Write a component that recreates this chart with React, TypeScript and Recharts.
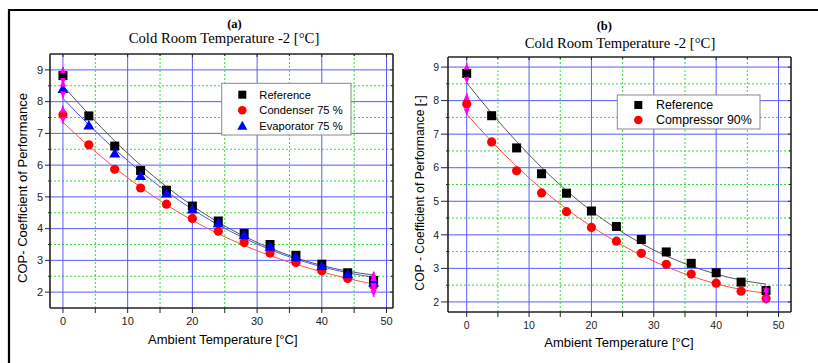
import React from "react";
import { ComposedChart, XAxis, YAxis, Line, Scatter, ReferenceLine } from "recharts";

const SANS = "'Liberation Sans', Arial, sans-serif";
const SERIF = "'Liberation Serif', 'Times New Roman', serif";

// ambient temperature, °C
const temps = [0, 4, 8, 12, 16, 20, 24, 28, 32, 36, 40, 44, 48];

// panel (a): measured COP
const refA = [8.82, 7.55, 6.6, 5.83, 5.21, 4.71, 4.24, 3.85, 3.5, 3.16, 2.88, 2.61, 2.37];
const condA = [7.59, 6.64, 5.87, 5.28, 4.77, 4.32, 3.92, 3.56, 3.23, 2.93, 2.67, 2.43, 2.21];
const evapA = [8.4, 7.25, 6.37, 5.66, 5.11, 4.6, 4.17, 3.79, 3.43, 3.1, 2.82, 2.56, 2.3];
// panel (a): fitted curves
const refFitA = [8.5, 7.6, 6.76, 6.0, 5.32, 4.72, 4.2, 3.76, 3.39, 3.08, 2.84, 2.66, 2.54];
const condFitA = [7.35, 6.6, 5.92, 5.3, 4.75, 4.26, 3.84, 3.47, 3.15, 2.88, 2.64, 2.43, 2.25];
const evapFitA = [8.1, 7.27, 6.5, 5.8, 5.17, 4.61, 4.12, 3.7, 3.34, 3.04, 2.8, 2.61, 2.47];

// panel (b)
const refB = [8.81, 7.55, 6.59, 5.82, 5.24, 4.71, 4.25, 3.86, 3.49, 3.15, 2.87, 2.59, 2.34];
const compB = [7.9, 6.77, 5.91, 5.25, 4.69, 4.22, 3.81, 3.45, 3.12, 2.83, 2.56, 2.32, 2.1];
const refFitB = [8.53, 7.62, 6.78, 6.01, 5.32, 4.71, 4.19, 3.74, 3.37, 3.07, 2.83, 2.65, 2.53];
const compFitB = [7.6, 6.78, 6.04, 5.37, 4.77, 4.25, 3.79, 3.39, 3.05, 2.77, 2.54, 2.37, 2.26];

// error arrows: [x, low, high]
const errA: number[][] = [
  [0, 8.52, 9.12], [0, 8.1, 8.7], [0, 7.3, 7.88],
  [48, 2.07, 2.67], [48, 2.02, 2.58], [48, 1.85, 2.57],
];
const errB: number[][] = [
  [0, 8.5, 9.13], [0, 7.56, 8.23],
  [48, 2.2, 2.49], [48, 1.95, 2.25],
];

const xTicks = [0, 5, 10, 15, 20, 25, 30, 35, 40, 45, 50];
const yTicks = [2, 2.5, 3, 3.5, 4, 4.5, 5, 5.5, 6, 6.5, 7, 7.5, 8, 8.5, 9];

const pts = (ys: number[]) => temps.map((x, i) => ({ x, y: ys[i] }));

const Square = (p: any) => <rect x={p.cx - 4.5} y={p.cy - 4.5} width={9} height={9} fill="#000" />;
const Dot = (p: any) => <circle cx={p.cx} cy={p.cy} r={4.6} fill="#ff0000" />;
const Tri = (p: any) => (
  <path d={`M${p.cx},${p.cy - 5.5} L${p.cx + 5.5},${p.cy + 4} L${p.cx - 5.5},${p.cy + 4} Z`} fill="#0000ff" />
);
const Arrow = (p: any) => {
  const s = p.payload.up ? -1 : 1;
  return (
    <path d={`M${p.cx},${p.cy} L${p.cx - 3},${p.cy - s * 7} L${p.cx + 3},${p.cy - s * 7} Z`} fill="#ff00ff" />
  );
};

const shapes: Record<string, any> = { sq: Square, dot: Dot, tri: Tri };

interface Series { pts: number[]; fit: number[]; shape: string; color: string; }
interface PanelProps {
  left: number;
  width: number;
  // plot box edges inside the panel
  box: { top: number; right: number; bottom: number; left: number };
  xDomain: number[];
  yDomain: number[];
  fs: number;
  yLen: number;
  series: Series[];
  errs: number[][];
}

function Panel(p: PanelProps) {
  const { fs, yLen, box } = p;
  const axisLine = { stroke: "#222", strokeWidth: 1.6 };
  // axes need 1px of room or they are not drawn at all
  const margin = { top: box.top - 1, right: box.right - 1, bottom: box.bottom - 1, left: box.left - 1 };

  const LeftTick = (t: any) => {
    const v = t.payload.value;
    const major = Number.isInteger(v);
    const len = major ? yLen : 2;
    return (
      <g>
        <line x1={t.x - len} x2={t.x} y1={t.y} y2={t.y} stroke="#222" />
        {major && (
          <text x={t.x - yLen - 2} y={t.y} dy="0.35em" textAnchor="end" fontSize={fs} fill="#222" fontFamily={SANS}>
            {v}
          </text>
        )}
      </g>
    );
  };
  const RightTick = (t: any) => {
    const len = Number.isInteger(t.payload.value) ? 3 : 2;
    return <line x1={t.x - len} x2={t.x} y1={t.y} y2={t.y} stroke="#222" />;
  };
  const BottomTick = (t: any) => {
    const v = t.payload.value;
    const major = v % 10 === 0;
    return (
      <g>
        <line x1={t.x} x2={t.x} y1={t.y} y2={t.y + 5} stroke="#222" />
        {major && (
          <text x={t.x} y={t.y + 13} dy="0.35em" textAnchor="middle" fontSize={fs} fill="#222" fontFamily={SANS}>
            {v}
          </text>
        )}
      </g>
    );
  };
  const TopTick = (t: any) => {
    const len = t.payload.value % 10 === 0 ? 3 : 2;
    return <line x1={t.x} x2={t.x} y1={t.y} y2={t.y + len} stroke="#222" />;
  };

  const arrowPts = p.errs.flatMap(([x, lo, hi]) => [
    { x, y: hi, up: true },
    { x, y: lo, up: false },
  ]);

  return (
    <div style={{ position: "absolute", left: p.left, top: 0 }}>
      <ComposedChart width={p.width} height={363} margin={margin}>
        <XAxis type="number" dataKey="x" domain={p.xDomain} ticks={xTicks} interval={0} allowDataOverflow
          height={1} tickSize={0} tickMargin={0} tickLine={false} tick={BottomTick} axisLine={axisLine} />
        <XAxis xAxisId="t" orientation="top" type="number" dataKey="x" domain={p.xDomain} ticks={xTicks} interval={0}
          allowDataOverflow height={1} tickSize={0} tickMargin={0} tickLine={false} tick={TopTick} axisLine={axisLine} />
        <YAxis type="number" domain={p.yDomain} ticks={yTicks} interval={0} allowDataOverflow
          width={1} tickSize={0} tickMargin={0} tickLine={false} tick={LeftTick} axisLine={axisLine} />
        <YAxis yAxisId="r" orientation="right" type="number" domain={p.yDomain} ticks={yTicks} interval={0}
          allowDataOverflow width={1} tickSize={0} tickMargin={0} tickLine={false} tick={RightTick} axisLine={axisLine} />

        {yTicks.map((v) =>
          Number.isInteger(v) ? (
            <ReferenceLine key={"y" + v} y={v} stroke="#5a5aff" strokeWidth={1} />
          ) : (
            <ReferenceLine key={"y" + v} y={v} stroke="#33dd33" strokeDasharray="2 2" strokeWidth={1} />
          )
        )}
        {xTicks.map((v) =>
          v % 10 === 0 ? (
            <ReferenceLine key={"x" + v} x={v} stroke="#5a5aff" strokeWidth={1} />
          ) : (
            <ReferenceLine key={"x" + v} x={v} stroke="#33dd33" strokeDasharray="2 2" strokeWidth={1} />
          )
        )}

        {p.errs.map(([x, lo, hi], i) => (
          <ReferenceLine key={"e" + i} segment={[{ x, y: lo }, { x, y: hi }]}
            stroke="#ff00ff" strokeWidth={1.5} strokeDasharray="3 2" />
        ))}

        {p.series.map((s, i) => (
          <Line key={"f" + i} data={pts(s.fit)} dataKey="y" type="monotone" dot={false}
            stroke={s.color} strokeWidth={1} isAnimationActive={false} />
        ))}
        {p.series.map((s, i) => (
          <Scatter key={"s" + i} data={pts(s.pts)} dataKey="y" shape={shapes[s.shape]} isAnimationActive={false} />
        ))}
        <Scatter data={arrowPts} dataKey="y" shape={Arrow} isAnimationActive={false} />
      </ComposedChart>
    </div>
  );
}

function LegendMark({ kind, x, y }: { kind: string; x: number; y: number }) {
  if (kind === "sq") return <rect x={x - 4} y={y - 4} width={8} height={8} fill="#000" />;
  if (kind === "dot") return <circle cx={x} cy={y} r={4.3} fill="#ff0000" />;
  return <path d={`M${x},${y - 5} L${x + 5},${y + 4} L${x - 5},${y + 4} Z`} fill="#0000ff" />;
}

export default function App() {
  return (
    <div style={{ position: "absolute", left: 0, top: 0, width: 818, height: 363, background: "#fff", overflow: "hidden" }}>
      <Panel
        left={0}
        width={410}
        box={{ top: 54, right: 17, bottom: 55, left: 50 }}
        xDomain={[-2, 51]}
        yDomain={[1.5, 9.5]}
        fs={11}
        yLen={5}
        series={[
          { pts: refA, fit: refFitA, shape: "sq", color: "#555" },
          { pts: condA, fit: condFitA, shape: "dot", color: "#ff5050" },
          { pts: evapA, fit: evapFitA, shape: "tri", color: "#5050ff" },
        ]}
        errs={errA}
      />
      <Panel
        left={410}
        width={408}
        box={{ top: 57, right: 27, bottom: 51, left: 38 }}
        xDomain={[-3, 52]}
        yDomain={[1.7, 9.3]}
        fs={10.5}
        yLen={7}
        series={[
          { pts: refB, fit: refFitB, shape: "sq", color: "#555" },
          { pts: compB, fit: compFitB, shape: "dot", color: "#ff5050" },
        ]}
        errs={errB}
      />

      <svg width={818} height={363} style={{ position: "absolute", left: 0, top: 0, pointerEvents: "none" }}>
        {/* figure frame */}
        <line x1={8} x2={818} y1={10} y2={10} stroke="#000" strokeWidth={2.2} />
        <line x1={9} x2={9} y1={9} y2={363} stroke="#000" strokeWidth={2.2} />

        {/* titles */}
        <text x={234.5} y={24} dy="0.35em" textAnchor="middle" fontFamily={SERIF} fontWeight="bold" fontSize={12.5}>(a)</text>
        <text x={224} y={37.7} dy="0.35em" textAnchor="middle" fontFamily={SERIF} fontSize={14.7}>Cold Room Temperature -2 [°C]</text>
        <text x={604.3} y={25.7} dy="0.35em" textAnchor="middle" fontFamily={SERIF} fontWeight="bold" fontSize={12.5}>(b)</text>
        <text x={620} y={42.7} dy="0.35em" textAnchor="middle" fontFamily={SERIF} fontSize={14.7}>Cold Room Temperature -2 [°C]</text>

        {/* axis labels */}
        <text x={222.8} y={339.3} dy="0.35em" textAnchor="middle" fontFamily={SANS} fontSize={13}>Ambient Temperature [°C]</text>
        <text x={619} y={342.7} dy="0.35em" textAnchor="middle" fontFamily={SANS} fontSize={13}>Ambient Temperature [°C]</text>
        <text transform="translate(22.5,188) rotate(-90)" dy="0.35em" textAnchor="middle" fontFamily={SANS} fontSize={13}>
          COP- Coefficient of Performance
        </text>
        <text transform="translate(420,193) rotate(-90)" dy="0.35em" textAnchor="middle" fontFamily={SANS} fontSize={12.2}>
          COP - Coefficient of Performance [-]
        </text>

        {/* legend (a) */}
        <rect x={221.7} y={83.3} width={129.3} height={51.7} fill="#fff" stroke="#888" strokeWidth={1} />
        <LegendMark kind="sq" x={242.3} y={94.7} />
        <LegendMark kind="dot" x={242.3} y={110.2} />
        <LegendMark kind="tri" x={242.3} y={125.8} />
        <text x={259.3} y={94.7} dy="0.35em" fontFamily={SANS} fontSize={11.2}>Reference</text>
        <text x={259.3} y={110.2} dy="0.35em" fontFamily={SANS} fontSize={11.2}>Condenser 75 %</text>
        <text x={259.3} y={125.8} dy="0.35em" fontFamily={SANS} fontSize={11.2}>Evaporator 75 %</text>

        {/* legend (b) */}
        <rect x={617.3} y={95} width={142.7} height={34} fill="#fff" stroke="#888" strokeWidth={1} />
        <LegendMark kind="sq" x={638.3} y={105} />
        <LegendMark kind="dot" x={638.3} y={120} />
        <text x={656} y={105} dy="0.35em" fontFamily={SANS} fontSize={12.4}>Reference</text>
        <text x={656} y={120} dy="0.35em" fontFamily={SANS} fontSize={12.4}>Compressor 90%</text>
      </svg>
    </div>
  );
}
